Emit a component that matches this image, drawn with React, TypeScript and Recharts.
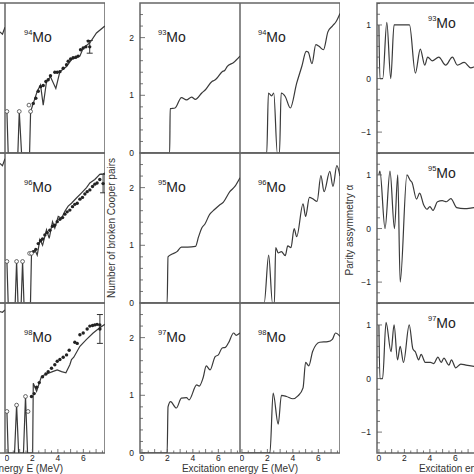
import { ComposedChart, Line, Scatter, XAxis, YAxis, ReferenceArea, ErrorBar } from "recharts";

// excitation energy axis, shared by every panel
const X_DOMAIN: [number, number] = [-0.15, 7.7];
const xTicks = [0, 0.5, 1, 1.5, 2, 2.5, 3, 3.5, 4, 4.5, 5, 5.5, 6, 6.5, 7, 7.5];
const xLabelTicks = [0, 2, 4, 6];

// number of broken Cooper pairs
const PAIR_DOMAIN: [number, number] = [0, 2.6];
const pairTicks = [0, 0.2, 0.4, 0.6, 0.8, 1, 1.2, 1.4, 1.6, 1.8, 2, 2.2, 2.4];
const pairLabelTicks = [0, 1, 2];

// parity asymmetry
const PARITY_DOMAIN: [number, number] = [-1.39, 1.41];
const parityTicks = [-1.2, -1, -0.8, -0.6, -0.4, -0.2, 0, 0.2, 0.4, 0.6, 0.8, 1, 1.2, 1.4];
const parityLabelTicks = [-1, 0, 1];

// left column: experiment (dots) and calculation (line)
const ex94E = [0, 0.1, 0.86, 0.97, 1.15, 1.78, 1.86, 2.07, 2.38, 2.64, 2.85, 3.11, 3.42, 3.84, 4.16, 4.68, 5.07, 5.73, 5.99, 6.51, 7.03, 7.69];
const ex94N = [0.72, 0, 0, 0.72, 0, 0, 0.72, 0.86, 1.07, 1.18, 0.83, 1.24, 1.32, 1.12, 1.41, 1.5, 1.62, 1.68, 1.82, 1.91, 2.08, 2.2];
const d94E = [2.07, 2.27, 2.46, 2.64, 2.85, 3.06, 3.24, 3.42, 3.76, 3.95, 4.16, 4.42, 4.68, 4.81, 5.0, 5.2, 5.41, 5.59, 5.78, 5.99, 6.2, 6.38];
const d94N = [0.86, 0.95, 1.07, 1.15, 1.17, 1.24, 1.27, 1.34, 1.4, 1.4, 1.41, 1.47, 1.53, 1.59, 1.63, 1.65, 1.66, 1.68, 1.79, 1.82, 1.84, 1.94];
const o94E = [0, 0.97, 1.73, 1.86];
const o94N = [0.72, 0.72, 0.83, 0.72];

const ex96E = [0, 0.1, 0.65, 0.76, 0.87, 1.12, 1.23, 1.34, 1.85, 1.93, 2.2, 2.38, 2.59, 2.8, 3.11, 3.32, 3.58, 3.76, 4.03, 4.29, 4.55, 4.81, 5.07, 5.46, 5.86, 6.25, 6.51, 6.9, 7.29, 7.55, 7.7];
const ex96N = [0.72, 0, 0, 0.72, 0, 0, 0.72, 0, 0, 0.86, 0.92, 0.83, 1.1, 1.0, 1.27, 1.12, 1.41, 1.3, 1.5, 1.47, 1.59, 1.68, 1.73, 1.82, 1.91, 2.0, 2.08, 2.14, 2.23, 2.24, 2.25];
const d96E = [2.07, 2.27, 2.46, 2.64, 2.8, 2.98, 3.16, 3.37, 3.58, 3.76, 3.95, 4.16, 4.37, 4.55, 4.73, 4.94, 5.15, 5.33, 5.52, 5.73, 5.93, 6.12, 6.3, 6.51, 6.72, 6.9, 7.08, 7.29];
const d96N = [0.89, 0.93, 1.03, 1.08, 1.11, 1.18, 1.22, 1.26, 1.33, 1.35, 1.41, 1.45, 1.48, 1.54, 1.58, 1.61, 1.67, 1.71, 1.73, 1.8, 1.83, 1.89, 1.93, 1.96, 2.02, 2.06, 2.08, 2.14];
const o96E = [0, 0.76, 1.23, 1.78, 1.93];
const o96N = [0.72, 0.72, 0.72, 0.86, 0.86];

const ex98E = [0, 0.1, 0.6, 0.76, 0.92, 1.3, 1.46, 1.62, 2.02, 2.07, 2.33, 2.72, 3.11, 3.58, 3.95, 4.29, 4.63, 4.94, 5.07, 5.25, 5.73, 6.25, 6.77, 7.29, 7.69];
const ex98N = [0.72, 0, 0, 0.83, 0, 0, 0.98, 0, 0, 1.21, 1.07, 1.33, 1.37, 1.41, 1.44, 1.41, 1.39, 1.53, 1.62, 1.66, 1.85, 1.97, 2.08, 2.17, 2.23];
const d98E = [1.93, 2.14, 2.33, 2.54, 2.8, 3.06, 3.24, 3.5, 3.76, 3.95, 4.16, 4.42, 4.68, 4.89, 5.33, 5.52, 5.73, 5.99, 6.3, 6.51, 6.72, 6.9, 7.08, 7.29];
const d98N = [0.98, 1.03, 1.14, 1.22, 1.32, 1.37, 1.41, 1.47, 1.53, 1.59, 1.62, 1.66, 1.7, 1.78, 1.92, 1.9, 2.05, 2.08, 2.15, 2.2, 2.21, 2.22, 2.23, 2.22];
const o98E = [0, 0.76, 1.46, 1.66];
const o98N = [0.72, 0.83, 0.98, 0.72];

// error bars: energy, value, half-width
const err94 = [6.5, 1.84, 0.11];
const err96 = [7.55, 2.07, 0.16];
const err98 = [7.3, 2.15, 0.25];

// tails of the cut-off panels on the far left
const edgeE = [7.3, 7.5, 7.7];
const edge1N = [2.1, 2.06, 2.18];
const edge2N = [2.42, 2.38, 2.5];
const edge3N = [2.45, 2.44, 2.48];

// middle columns: broken Cooper pairs
const mo93E = [0, 2.18, 2.22, 2.6, 3.1, 3.5, 3.9, 4.2, 4.7, 5.0, 5.5, 5.7, 5.9, 6.3, 6.5, 6.7, 7.2, 7.7];
const mo93N = [0, 0, 0.77, 0.78, 0.96, 0.92, 0.97, 0.93, 1.04, 1.1, 1.24, 1.26, 1.3, 1.41, 1.43, 1.5, 1.57, 1.68];
const mo94E = [0, 1.95, 2.08, 2.33, 2.5, 2.78, 2.95, 3.08, 3.4, 3.8, 4.3, 4.7, 5.05, 5.2, 5.5, 5.8, 6.05, 6.4, 6.75, 7.1, 7.4, 7.7];
const mo94N = [0, 0, 1.04, 0.99, 1.04, 0, 0, 1.04, 0.98, 0.78, 1.21, 1.5, 1.76, 1.75, 1.55, 1.88, 1.85, 1.79, 2.1, 2.2, 2.28, 2.42];
const mo95E = [0, 1.98, 2.05, 2.3, 2.75, 3.1, 3.6, 4.2, 4.45, 4.7, 4.95, 5.3, 5.7, 6.1, 6.4, 6.9, 7.3, 7.7];
const mo95N = [0, 0, 0.8, 0.84, 0.89, 0.97, 0.97, 0.98, 1.15, 1.3, 1.37, 1.53, 1.62, 1.7, 1.75, 1.93, 2.02, 2.17];
const mo96E = [0, 1.75, 2.1, 2.4, 2.55, 2.65, 2.85, 3.1, 3.4, 3.6, 3.85, 4.1, 4.3, 4.8, 5.0, 5.3, 5.6, 5.9, 6.2, 6.45, 6.9, 7.15, 7.45, 7.7];
const mo96N = [0, 0, 0.83, 0, 0, 0.96, 0.87, 0.89, 0.82, 0.99, 0.96, 1.29, 1.15, 1.72, 1.5, 1.83, 1.8, 1.76, 2.21, 1.93, 2.28, 2.02, 2.38, 2.2];
const mo97E = [0, 1.98, 2.05, 2.25, 2.7, 3.1, 3.5, 3.7, 4.3, 4.5, 4.8, 5.05, 5.35, 5.75, 6.0, 6.3, 6.55, 6.8, 7.2, 7.4, 7.7];
const mo97N = [0, 0, 0.8, 0.89, 0.78, 0.95, 0.96, 0.92, 1.18, 1.16, 1.3, 1.51, 1.44, 1.67, 1.7, 1.82, 1.83, 1.91, 2.08, 2.04, 2.08];
const mo98E = [0, 2.2, 2.45, 2.85, 3.1, 3.5, 4.0, 4.4, 4.8, 5.0, 5.25, 5.55, 6.1, 6.75, 7.1, 7.35, 7.7];
const mo98N = [0, 0, 1.04, 0.5, 1.0, 0.98, 0.94, 0.99, 1.13, 1.57, 1.51, 1.76, 1.92, 1.93, 1.97, 2.08, 2.02];

// right column: parity asymmetry
const p93E = [0, 0.08, 0.3, 0.62, 0.93, 1.19, 2.4, 2.86, 3.25, 3.6, 3.83, 4.18, 4.7, 5.24, 5.77, 6.16, 6.7, 7.2, 7.7];
const p93A = [1, 0, 0, 1.05, 0, 1, 1, 0.1, 0.55, 0.25, 0.4, 0.33, 0.4, 0.25, 0.4, 0.25, 0.3, 0.2, 0.25];
const p95E = [0, 0.08, 0.48, 0.87, 1.22, 1.48, 1.67, 2.2, 2.46, 2.6, 2.95, 3.2, 3.5, 3.78, 4.0, 4.25, 4.6, 4.97, 5.3, 5.65, 6.1, 6.7, 7.2, 7.7];
const p95A = [1.0, 1.07, 0, 1.07, 0, 1.0, -1.0, 1.0, 0.9, 0.86, 0.55, 0.66, 0.45, 0.36, 0.41, 0.34, 0.5, 0.52, 0.5, 0.56, 0.39, 0.37, 0.38, 0.4];
const p97E = [0, 0.08, 0.29, 0.56, 0.95, 1.19, 1.46, 1.67, 1.93, 2.38, 2.67, 2.86, 3.12, 3.31, 3.65, 4.05, 4.31, 4.63, 4.89, 5.1, 5.5, 5.69, 6.03, 6.43, 6.83, 7.7];
const p97A = [1, 0, 0, 1.05, 0.5, 1.0, 0.35, 0.6, 0.3, 1.0, 0.55, 0.5, 0.35, 0.45, 0.3, 0.3, 0.28, 0.4, 0.3, 0.38, 0.25, 0.35, 0.2, 0.27, 0.25, 0.22];

const FONT = "'Liberation Sans', Arial, sans-serif";
const INK = "#3a3a3a";
const W = 100;
const H = 150;
const PAD = 6; // room above/below the frame so edge tick labels are not clipped
const ROWS = [3, 153, 303];

const zip = (xs: number[], ys: number[]) => xs.map((x, i) => ({ x, y: ys[i] }));

const FilledDot = (p: any) => <circle cx={p.cx} cy={p.cy} r={1.7} fill="#222" />;
const OpenDot = (p: any) => <circle cx={p.cx} cy={p.cy} r={1.9} fill="#fff" stroke="#444" strokeWidth={0.8} />;

const xTick = (labels: boolean) => (props: any) => {
  const { x, y, payload } = props;
  const v = payload.value;
  const major = Number.isInteger(v);
  return (
    <g>
      <line x1={x} x2={x} y1={y} y2={y - (major ? 4 : 2.5)} stroke="#555" strokeWidth={0.8} />
      {labels && xLabelTicks.includes(v) && (
        <text x={x} y={y + 8} textAnchor="middle" fontSize={8.5} fill="#222" fontFamily={FONT}>
          {v}
        </text>
      )}
    </g>
  );
};

const yTick = (labels: boolean, majors: number[]) => (props: any) => {
  const { x, y, payload } = props;
  const v = payload.value;
  const major = majors.includes(v);
  return (
    <g>
      <line x1={x} x2={x + (major ? 5 : 3)} y1={y} y2={y} stroke="#555" strokeWidth={0.8} />
      {labels && major && (
        <text x={x - 6} y={y + 3} textAnchor="end" fontSize={8.5} fill="#222" fontFamily={FONT}>
          {v < 0 ? `\u2212${-v}` : v}
        </text>
      )}
    </g>
  );
};

type PanelProps = {
  left: number;
  top: number;
  parity?: boolean;
  e: number[];
  v: number[];
  linear?: boolean;
  dotsE?: number[];
  dotsN?: number[];
  openE?: number[];
  openN?: number[];
  err?: number[];
  xLabels?: boolean;
  yLabels?: boolean;
};

function Panel(p: PanelProps) {
  const padL = p.yLabels ? 26 : 0;
  const padB = p.xLabels ? 14 : 0;
  const yDomain = p.parity ? PARITY_DOMAIN : PAIR_DOMAIN;
  const yTicks = p.parity ? parityTicks : pairTicks;
  const yMajors = p.parity ? parityLabelTicks : pairLabelTicks;
  return (
    <div style={{ position: "absolute", left: p.left - padL, top: p.top - PAD }}>
      <ComposedChart
        width={W + padL}
        height={H + padB + 2 * PAD}
        margin={{ top: PAD, right: 0, bottom: PAD, left: 0 }}
      >
        <XAxis
          type="number"
          dataKey="x"
          domain={X_DOMAIN}
          allowDataOverflow
          ticks={xTicks}
          interval={0}
          height={padB}
          axisLine={false}
          tickLine={false}
          tickSize={0}
          tickMargin={0}
          tick={xTick(!!p.xLabels)}
        />
        <YAxis
          type="number"
          dataKey="y"
          domain={yDomain}
          allowDataOverflow
          ticks={yTicks}
          interval={0}
          width={padL}
          axisLine={false}
          tickLine={false}
          tickSize={0}
          tickMargin={0}
          tick={yTick(!!p.yLabels, yMajors)}
        />
        <ReferenceArea
          x1={X_DOMAIN[0]}
          x2={X_DOMAIN[1]}
          y1={yDomain[0]}
          y2={yDomain[1]}
          fill="none"
          fillOpacity={0}
          stroke="#666"
          strokeWidth={1.5}
        />
        <Line
          data={zip(p.e, p.v)}
          dataKey="y"
          type={p.linear ? "linear" : "monotone"}
          stroke={INK}
          strokeWidth={1.2}
          dot={false}
          isAnimationActive={false}
        />
        {p.dotsE && p.dotsN && (
          <Scatter data={zip(p.dotsE, p.dotsN)} dataKey="y" shape={FilledDot} isAnimationActive={false} />
        )}
        {p.openE && p.openN && (
          <Scatter data={zip(p.openE, p.openN)} dataKey="y" shape={OpenDot} isAnimationActive={false} />
        )}
        {p.err && (
          <Scatter data={[{ x: p.err[0], y: p.err[1], d: p.err[2] }]} dataKey="y" shape={FilledDot} isAnimationActive={false}>
            <ErrorBar dataKey="d" direction="y" width={3} stroke="#333" strokeWidth={1} />
          </Scatter>
        )}
      </ComposedChart>
    </div>
  );
}

function Iso({ n, left, base }: { n: string; left: number; base: number }) {
  return (
    <div
      style={{
        position: "absolute",
        left,
        top: base - 12,
        fontFamily: FONT,
        fontSize: 14,
        lineHeight: "14px",
        color: "#222",
        whiteSpace: "nowrap",
      }}
    >
      <span style={{ fontSize: 7.5, position: "relative", top: -7 }}>{n}</span>Mo
    </div>
  );
}

function Title({ text, x, y, vertical }: { text: string; x: number; y: number; vertical?: boolean }) {
  return (
    <div
      style={{
        position: "absolute",
        left: x,
        top: y,
        transform: `translate(-50%, -50%)${vertical ? " rotate(-90deg)" : ""}`,
        fontFamily: FONT,
        fontSize: 10,
        color: "#333",
        whiteSpace: "nowrap",
      }}
    >
      {text}
    </div>
  );
}

export default function App() {
  return (
    <div
      style={{
        position: "fixed",
        left: 0,
        top: 0,
        width: 474,
        height: 474,
        overflow: "hidden",
        background: "#fff",
      }}
    >
      {/* cut-off panels at the far left */}
      <Panel left={-95} top={ROWS[0]} e={edgeE} v={edge1N} linear />
      <Panel left={-95} top={ROWS[1]} e={edgeE} v={edge2N} linear />
      <Panel left={-95} top={ROWS[2]} e={edgeE} v={edge3N} linear />

      {/* left column */}
      <Panel left={5} top={ROWS[0]} e={ex94E} v={ex94N} linear dotsE={d94E} dotsN={d94N} openE={o94E} openN={o94N} err={err94} />
      <Panel left={5} top={ROWS[1]} e={ex96E} v={ex96N} linear dotsE={d96E} dotsN={d96N} openE={o96E} openN={o96N} err={err96} />
      <Panel left={5} top={ROWS[2]} e={ex98E} v={ex98N} linear dotsE={d98E} dotsN={d98N} openE={o98E} openN={o98N} err={err98} xLabels />
      <Iso n="94" left={24} base={ROWS[0] + 39} />
      <Iso n="96" left={24} base={ROWS[1] + 39} />
      <Iso n="98" left={24} base={ROWS[2] + 39} />

      {/* middle group */}
      <Panel left={140} top={ROWS[0]} e={mo93E} v={mo93N} yLabels />
      <Panel left={240} top={ROWS[0]} e={mo94E} v={mo94N} />
      <Panel left={140} top={ROWS[1]} e={mo95E} v={mo95N} yLabels />
      <Panel left={240} top={ROWS[1]} e={mo96E} v={mo96N} />
      <Panel left={140} top={ROWS[2]} e={mo97E} v={mo97N} yLabels xLabels />
      <Panel left={240} top={ROWS[2]} e={mo98E} v={mo98N} xLabels />
      <Iso n="93" left={158} base={ROWS[0] + 39} />
      <Iso n="94" left={258} base={ROWS[0] + 39} />
      <Iso n="95" left={158} base={ROWS[1] + 39} />
      <Iso n="96" left={258} base={ROWS[1] + 39} />
      <Iso n="97" left={158} base={ROWS[2] + 39} />
      <Iso n="98" left={258} base={ROWS[2] + 39} />

      {/* right column */}
      <Panel left={377} top={ROWS[0]} parity e={p93E} v={p93A} yLabels />
      <Panel left={377} top={ROWS[1]} parity e={p95E} v={p95A} yLabels />
      <Panel left={377} top={ROWS[2]} parity e={p97E} v={p97A} yLabels xLabels />
      <Iso n="93" left={428} base={ROWS[0] + 25} />
      <Iso n="95" left={428} base={ROWS[1] + 25} />
      <Iso n="97" left={428} base={ROWS[2] + 25} />

      <Title text="Number of broken Cooper pairs" x={111} y={228} vertical />
      <Title text="Parity assymmetry α" x={349} y={230} vertical />
      <Title text="Excitation energy E (MeV)" x={5} y={468} />
      <Title text="Excitation energy E (MeV)" x={240} y={468} />
      <Title text="Excitation energy E (MeV)" x={477} y={468} />
    </div>
  );
}
